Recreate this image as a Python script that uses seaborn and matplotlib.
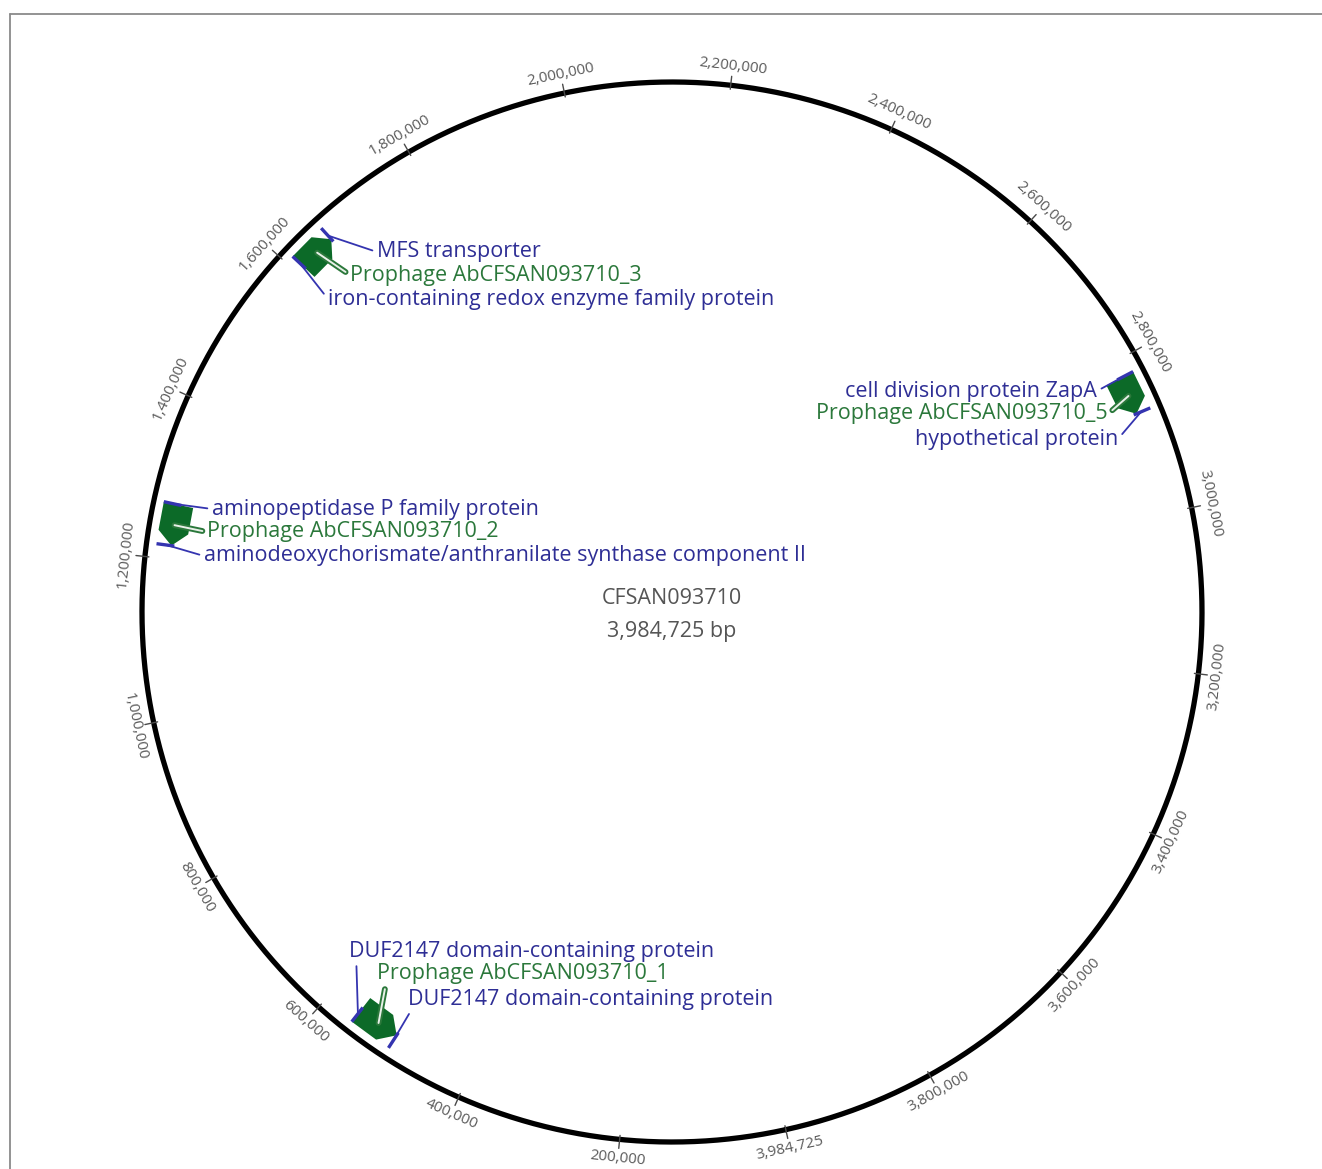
import numpy as np
import pandas as pd
import matplotlib
matplotlib.use("Agg")
import matplotlib.pyplot as plt
import matplotlib.patheffects as pe
from matplotlib.lines import Line2D
import seaborn as sns

# ---- genome ----
GENOME_NAME = "CFSAN093710"
GENOME_LENGTH = 3984725

# ---- coordinate ruler ----
tick_positions = list(range(200000, 3800001, 200000))
tick_labels = [f"{p:,}" for p in tick_positions]
origin_label = "3,984,725"

# ---- prophage regions ----
prophage_names = [
    "Prophage AbCFSAN093710_1",
    "Prophage AbCFSAN093710_2",
    "Prophage AbCFSAN093710_3",
    "Prophage AbCFSAN093710_5",
]
prophage_start = [503000, 1217000, 1611000, 2821000]
prophage_end = [558000, 1269000, 1660000, 2870000]
prophage_strand = [-1, -1, 1, 1]

# ---- flanking genes (at the start / end of each prophage) ----
start_gene = [
    "DUF2147 domain-containing protein",
    "aminodeoxychorismate/anthranilate synthase component II",
    "iron-containing redox enzyme family protein",
    "cell division protein ZapA",
]
end_gene = [
    "DUF2147 domain-containing protein",
    "aminopeptidase P family protein",
    "MFS transporter",
    "hypothetical protein",
]

# label placement (figure pixels from the top-left) for start gene, prophage, end gene
W, H = 1322, 1169
label_xy = [
    [(408, 999), (377, 974), (349, 951)],
    [(204, 556), (207, 532), (212, 509)],
    [(328, 299), (350, 275), (377, 252)],
    [(1097, 391), (1108, 414), (1118, 439)],
]
label_ha = ["left", "left", "left", "right"]
label_relpos = [
    [(0.01, 0.0), (0.03, 0.0), (0.02, 0.0)],
    [(0.0, 0.5), (0.0, 0.5), (0.0, 0.5)],
    [(0.0, 0.5), (0.0, 0.5), (0.0, 0.5)],
    [(1.0, 0.5), (1.0, 0.5), (1.0, 0.5)],
]

# ---- styling ----
sns.set_theme(style="white")
plt.rcParams["font.family"] = ["Open Sans", "DejaVu Sans"]

BLUE_TXT = "#2e2e95"
BLUE_LINE = "#3434b0"
GREEN_TXT = "#2b783b"
GREEN_FILL = "#0c6a28"
GREY_TXT = "#5a5a5a"

R = 530.0          # backbone radius (axes radial units == pixels)
RMAX = 550.0
R_IN, R_OUT = 490.0, 520.0
OFFSET_DEG = -77.6


def th(p):
    return 2 * np.pi * p / GENOME_LENGTH


def tangent_rotation(p):
    phi = OFFSET_DEG - np.degrees(th(p))
    rot = phi - 90.0
    return ((rot + 90.0) % 180.0) - 90.0


fig = plt.figure(figsize=(W / 100, H / 100), dpi=100)
fig.patch.set_facecolor("white")
cx, cy = 672, 612
ax = fig.add_axes([(cx - RMAX) / W, (H - cy - RMAX) / H, 2 * RMAX / W, 2 * RMAX / H],
                  projection="polar")
ax.set_theta_offset(np.radians(OFFSET_DEG))
ax.set_theta_direction(-1)

# backbone circle
backbone = pd.DataFrame({"theta": np.linspace(0, 2 * np.pi, 1441), "r": R})
sns.lineplot(data=backbone, x="theta", y="r", ax=ax, sort=False, estimator=None,
             color="black", linewidth=3.8)

# ruler ticks and labels
for p, lab in zip([0] + tick_positions, [origin_label] + tick_labels):
    ax.plot([th(p), th(p)], [R - 4, R + 9], color="#4a4a4a", lw=1.0)
    ax.text(th(p), R + 19, lab, rotation=tangent_rotation(p), rotation_mode="anchor",
            ha="center", va="center", fontsize=11, color=GREY_TXT)

# prophage blocks, flanking genes and labels
for i, name in enumerate(prophage_names):
    t0, t1 = th(prophage_start[i]), th(prophage_end[i])
    rm = 0.5 * (R_IN + R_OUT)
    h = 0.33 * (t1 - t0)
    if prophage_strand[i] > 0:
        tt = [t0, t0, t1 - h, t1, t1 - h]
    else:
        tt = [t1, t1, t0 + h, t0, t0 + h]
    rr = [R_IN, R_OUT, R_OUT, rm, R_IN]
    ax.fill(tt, rr, color=GREEN_FILL, lw=0, zorder=3)

    for gp in (prophage_start[i], prophage_end[i]):
        ax.plot([th(gp), th(gp)], [R_IN + 12, R_OUT], color=BLUE_LINE, lw=2.4,
                solid_capstyle="butt", zorder=4)

    texts = [start_gene[i], name, end_gene[i]]
    anchors = [(th(prophage_start[i]), 510), (0.5 * (t0 + t1), 505),
               (th(prophage_end[i]), 510)]
    for k in range(3):
        x, y = label_xy[i][k]
        is_phage = k == 1
        arrow = dict(arrowstyle="-", lw=1.3, shrinkA=1, shrinkB=0,
                     relpos=label_relpos[i][k],
                     color=BLUE_LINE)
        if is_phage:
            arrow.update(color="#e8f0e8", lw=1.4,
                         path_effects=[pe.Stroke(linewidth=4.2, foreground=GREEN_TXT),
                                       pe.Normal()])
        ax.annotate(texts[k], xy=anchors[k], xycoords="data",
                    xytext=(x, H - y), textcoords="figure pixels",
                    ha=label_ha[i], va="center", fontsize=15.5,
                    color=GREEN_TXT if is_phage else BLUE_TXT,
                    arrowprops=arrow, zorder=5)

ax.set_ylim(0, RMAX)
ax.set_axis_off()

# genome name and size in the middle
fig.text(cx / W, 1 - 598 / H, GENOME_NAME, ha="center", va="center",
         fontsize=15.5, color="#555555")
fig.text(cx / W, 1 - 632 / H, f"{GENOME_LENGTH:,} bp", ha="center", va="center",
         fontsize=15.5, color="#555555")

# panel frame
fig.add_artist(Line2D([10 / W, 1.0], [1 - 14 / H, 1 - 14 / H], transform=fig.transFigure,
                      color="#8a8a8a", lw=1.3))
fig.add_artist(Line2D([10 / W, 10 / W], [0.0, 1 - 14 / H], transform=fig.transFigure,
                      color="#8a8a8a", lw=1.3))

fig.savefig("out.png", dpi=100, facecolor="white")
